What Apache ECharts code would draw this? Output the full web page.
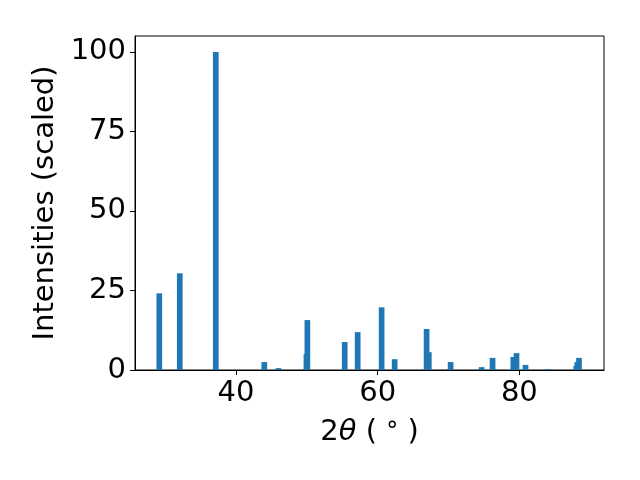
<!DOCTYPE html>
<html>
<head>
<meta charset="utf-8">
<script src="https://cdn.jsdelivr.net/npm/echarts@6/dist/echarts.min.js"></script>
<style>html,body{margin:0;padding:0;background:#fff}#c{width:640px;height:480px}</style>
</head>
<body>
<div id="c"></div>
<script>
// 2-theta positions (degrees) and scaled intensities
const twoTheta = [29.18, 32.07, 37.15, 37.30, 44.0, 45.85, 46.0, 49.82, 49.95, 50.08,
  55.35, 57.18, 60.56, 60.73, 62.4, 66.91, 67.22, 70.13, 70.30, 74.67,
  76.22, 76.39, 79.15, 79.6, 80.87, 84.05, 87.9, 88.04, 88.18, 88.42];
const intensity = [24.1, 30.4, 100, 0.3, 2.5, 0.3, 0.6, 0.3, 5.0, 15.7,
  8.8, 11.9, 19.7, 0.3, 3.4, 12.9, 5.6, 0.3, 2.5, 0.9,
  3.8, 0.3, 4.1, 5.3, 1.6, 0.3, 0.3, 1.3, 2.5, 3.8];
const xTicks = [40, 60, 80];
const yTicks = [0, 25, 50, 75, 100];

const FONT = 'DejaVu Sans';
const FS = 29;
const chart = echarts.init(document.getElementById('c'), null, {renderer: 'canvas'});
chart.setOption({
  animation: false,
  backgroundColor: '#fff',
  grid: {left: 135, top: 36, right: 36, bottom: 110, show: true, borderColor: '#000', borderWidth: 1, backgroundColor: 'transparent'},
  xAxis: {
    type: 'value', min: 25.75, max: 91.95,
    splitLine: {show: false},
    axisLine: {show: true, lineStyle: {color: '#000', width: 1}},
    axisTick: {show: true, inside: false, length: 5, lineStyle: {color: '#000', width: 1}, customValues: xTicks},
    axisLabel: {show: true, margin: 9, color: '#000', fontFamily: FONT, fontSize: FS, customValues: xTicks},
    name: '2{i|θ} ( {d|°} )',
    nameLocation: 'middle', nameGap: 48,
    nameTextStyle: {color: '#000', fontFamily: FONT, fontSize: FS,
      rich: {i: {fontStyle: 'italic', fontFamily: FONT, fontSize: FS, color: '#000'},
             d: {fontFamily: FONT, fontSize: 24, color: '#000'}}}
  },
  yAxis: {
    type: 'value', min: 0, max: 105,
    splitLine: {show: false},
    axisLine: {show: true, lineStyle: {color: '#000', width: 1}},
    axisTick: {show: true, inside: false, length: 5, lineStyle: {color: '#000', width: 1}, customValues: yTicks},
    axisLabel: {show: true, margin: 9, color: '#000', fontFamily: FONT, fontSize: FS, customValues: yTicks},
    name: 'Intensities (scaled)',
    nameLocation: 'middle', nameGap: 70, nameRotate: 90,
    nameTextStyle: {color: '#000', fontFamily: FONT, fontSize: FS}
  },
  series: [{
    type: 'bar',
    barWidth: 5.7,
    itemStyle: {color: '#1f77b4'},
    data: twoTheta.map((x, i) => [x, intensity[i]])
  }]
});
</script>
</body>
</html>
